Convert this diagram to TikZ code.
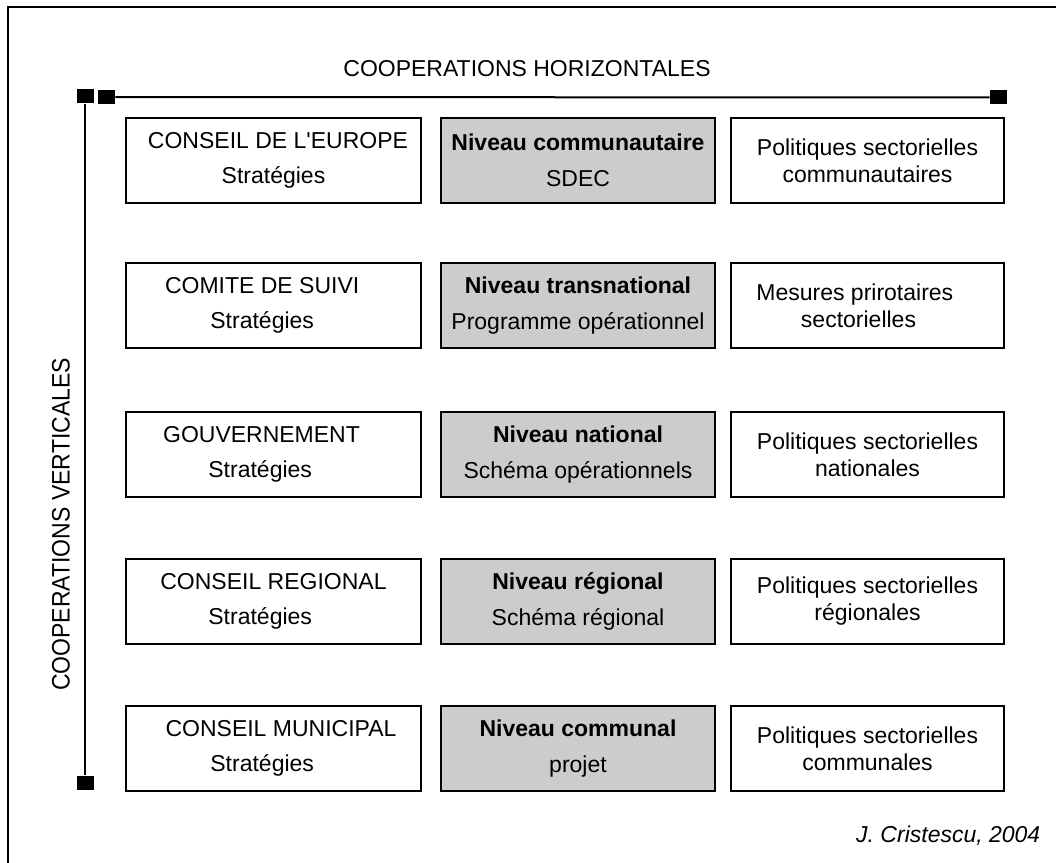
\documentclass[tikz,border=0pt]{standalone}
\usepackage{fontspec}
\setmainfont{Liberation Sans}

\begin{document}
\begin{tikzpicture}[x=0.75pt,y=-0.75pt,
  lbox/.style={draw,line width=1.5pt,minimum width=221pt,minimum height=63.75pt,inner sep=0pt,align=center,font=\fontsize{17.25pt}{26.6pt}\selectfont,execute at begin node={\rule{0pt}{17.5pt}}},
  mbox/.style={lbox,fill=gray!40,minimum width=205.5pt},
  rbox/.style={lbox,minimum width=205pt,font=\fontsize{17.25pt}{20.25pt}\selectfont,execute at begin node={\rule{0pt}{16pt}}},
  marker/.style={fill=black,minimum width=12.75pt,minimum height=10.5pt,inner sep=0pt},
  axis/.style={line width=1.5pt}]
\useasboundingbox (0,0) rectangle (1056,863);
%frame
\draw[line width=1.5pt] (8,863) -- (8,7) -- (1056,7);

%cooperations
\node[font=\fontsize{17.25pt}{20pt}\selectfont] (horiz) at (527,69) {COOPERATIONS HORIZONTALES};
\node[font=\fontsize{17.25pt}{20pt}\selectfont,rotate=90,yscale=1.1] (vert) at (61,524.5) {COOPERATIONS VERTICALES};
\node[marker] (vstart) at (85,96.5) {};
\node[marker] (vend) at (85,782.5) {};
\node[marker] (hstart) at (106.5,97) {};
\node[marker] (hend) at (998.5,97.5) {};
\draw[axis] (hstart) -- (hend);
\draw[axis] (vstart) -- (vend);

%level 1
\node[lbox] (europe) at (273.5,160.5) {\hspace*{6.75pt}CONSEIL DE L\textquotesingle EUROPE\\Stratégies};
\node[mbox] (ncommunautaire) at (578,160.5) {\textbf{Niveau communautaire}\\SDEC};
\node[rbox] (pcommunautaires) at (867.5,160.5) {Politiques sectorielles\\communautaires};

%level 2
\node[lbox] (suivi) at (273.5,305.5) {COMITE DE SUIVI\hspace*{17pt}\\Stratégies\hspace*{17pt}};
\node[mbox] (ntransnational) at (578,305.5) {\textbf{Niveau transnational}\\Programme opérationnel};
\node[rbox] (msectorielles) at (867.5,305.5) {Mesures prirotaires\hspace*{19pt}\\sectorielles\hspace*{13.5pt}};

%level 3
\node[lbox] (gouv) at (273.5,454.5) {GOUVERNEMENT\hspace*{18pt}\\Stratégies\hspace*{20pt}};
\node[mbox] (nnational) at (578,454.5) {\textbf{Niveau national}\\Schéma opérationnels};
\node[rbox] (pnationales) at (867.5,454.5) {Politiques sectorielles\\nationales};

%level 4
\node[lbox] (cregional) at (273.5,601.5) {CONSEIL REGIONAL\\Stratégies\hspace*{20pt}};
\node[mbox] (nregional) at (578,601.5) {\textbf{Niveau régional}\\Schéma régional};
\node[rbox] (pregionales) at (867.5,601.5) {Politiques sectorielles\\régionales};

%level 5
\node[lbox] (cmunicipal) at (273.5,748.5) {\hspace*{11.25pt}CONSEIL MUNICIPAL\\Stratégies\hspace*{17pt}};
\node[mbox] (ncommunal) at (578,748.5) {\textbf{Niveau communal}\\projet};
\node[rbox] (pcommunales) at (867.5,748.5) {Politiques sectorielles\\communales};

\node[anchor=base east,font=\fontsize{17.25pt}{20pt}\selectfont\itshape] (credit) at (1045,842) {J. Cristescu, 2004};
\end{tikzpicture}
\end{document}
